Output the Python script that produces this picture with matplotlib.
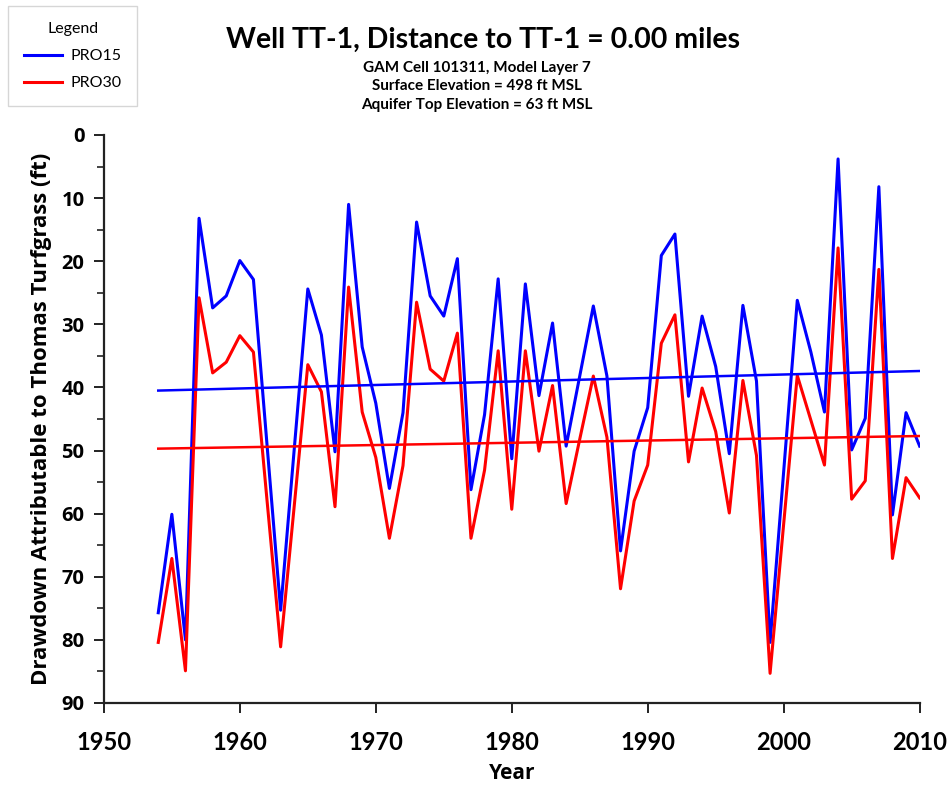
import matplotlib.pyplot as plt
import numpy as np

# Datos
years = np.arange(1954, 2011)
pro15 = [75.7, 60.1, 80.0, 13.2, 27.4, 25.5, 19.9, 22.9,
         49.1, 75.3, 49.8, 24.4, 31.7, 50.2, 11.0, 33.6, 42.5,
         56.0, 44.0, 13.8, 25.5, 28.7, 19.6, 56.2, 44.3, 22.8, 51.3,
         23.6, 41.3, 29.8, 49.3, 38.2, 27.1, 38.2, 65.9, 50.1, 43.2,
         19.1, 15.7, 41.4, 28.7, 36.7, 50.5, 27.0, 39.0, 80.4, 53.3,
         26.2, 34.4, 43.9, 3.8, 49.9, 44.9, 8.2, 60.2, 44.0, 49.3]
pro30 = [80.4, 67.1, 84.9, 25.8, 37.7, 36.0, 31.8, 34.4,
         57.9, 81.1, 58.8, 36.4, 40.7, 58.9, 24.1, 43.9, 51.1,
         63.9, 52.4, 26.5, 37.1, 39.0, 31.4, 63.9, 53.1, 34.2, 59.3,
         34.2, 50.1, 39.7, 58.4, 48.2, 38.2, 47.9, 71.9, 58.0, 52.3,
         33.0, 28.5, 51.8, 40.1, 47.0, 59.9, 38.9, 50.8, 85.3, 61.6,
         38.1, 45.2, 52.3, 17.9, 57.7, 54.8, 21.3, 67.1, 54.3, 57.5]

# Lineas de tendencia (extremos)
trend_years = [1954, 2010]
pro15_trend = [40.5, 37.4]
pro30_trend = [49.7, 47.7]

xticks = [1950, 1960, 1970, 1980, 1990, 2000, 2010]
yticks = [0, 10, 20, 30, 40, 50, 60, 70, 80, 90]

title = 'Well TT-1, Distance to TT-1 = 0.00 miles'
subtitles = ['GAM Cell 101311, Model Layer 7',
             'Surface Elevation = 498 ft MSL',
             'Aquifer Top Elevation = 63 ft MSL']

narrow = ['Lato', 'DejaVu Sans']
sans = ['Open Sans', 'DejaVu Sans']

fig = plt.figure(figsize=(9.53, 7.86), dpi=100)
ax = fig.add_axes([0.109, 0.1056, 0.856, 0.7227])

l1, = ax.plot(years, pro15, '-', color='#0000ff', linewidth=2.2)
l2, = ax.plot(years, pro30, '-', color='#ff0000', linewidth=2.2)
ax.plot(trend_years, pro15_trend, '-', color='#0000ff', linewidth=1.8)
ax.plot(trend_years, pro30_trend, '-', color='#ff0000', linewidth=1.8)

ax.set_xlim(1950, 2010)
ax.set_ylim(90, 0)
ax.set_xticks(xticks)
ax.set_yticks(yticks)
ax.set_yticks(np.arange(5, 90, 10), minor=True)

for s in ['top', 'right']:
    ax.spines[s].set_visible(False)
for s in ['left', 'bottom']:
    ax.spines[s].set_linewidth(1.6)
    ax.spines[s].set_color('#222222')
    ax.spines[s].set_clip_on(False)

ax.tick_params(axis='both', which='major', direction='out', length=7, width=1.4, color='#222222')
ax.tick_params(axis='y', which='minor', direction='out', length=5, width=1.2, color='#222222')
ax.tick_params(axis='x', pad=13)
ax.tick_params(axis='y', pad=7)

for lab in ax.get_xticklabels():
    lab.set_family(narrow)
    lab.set_fontsize(17)
    lab.set_fontweight('bold')
for lab in ax.get_yticklabels():
    lab.set_family(sans)
    lab.set_fontsize(14.5)
    lab.set_fontweight('bold')

ax.set_xlabel('Year', family=sans, fontsize=15, fontweight='bold', labelpad=7)
ax.set_ylabel('Drawdown Attributable to Thomas Turfgrass (ft)', family=sans,
              fontsize=16, fontweight='bold', labelpad=7)

fig.text(0.507, 0.949, title, ha='center', va='center', family=narrow, fontsize=20.5, fontweight='bold')
for i, s in enumerate(subtitles):
    fig.text(0.5, 0.914 - i * 0.0235, s, ha='center', va='center', family=narrow, fontsize=11, fontweight='bold')

leg = fig.legend([l1, l2], ['PRO15', 'PRO30'], title='Legend', loc='upper left',
                 bbox_to_anchor=(0.0084, 0.992), borderaxespad=0, frameon=True, fancybox=False,
                 handlelength=2.4, borderpad=1.0, labelspacing=0.8, handletextpad=0.5,
                 prop={'family': narrow, 'size': 11.5})
leg.get_title().set_family(narrow)
leg.get_title().set_fontsize(11.5)
leg.get_frame().set_edgecolor('#cccccc')
leg.get_frame().set_linewidth(1.0)

fig.savefig('out.png', dpi=100)
